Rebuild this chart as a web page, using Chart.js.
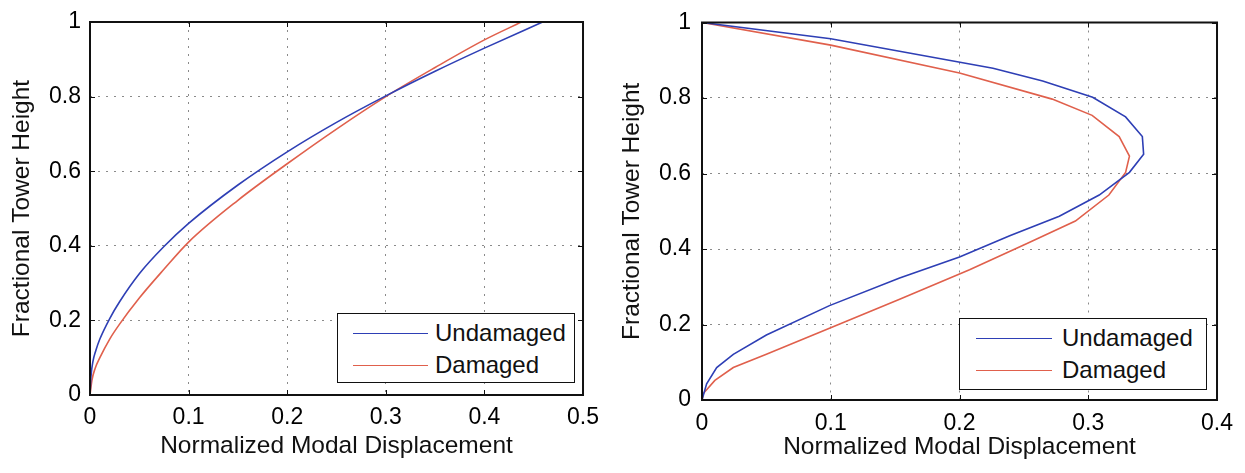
<!DOCTYPE html>
<html>
<head>
<meta charset="utf-8">
<script src="https://cdn.jsdelivr.net/npm/chart.js@4/dist/chart.umd.min.js"></script>
<style>
  html, body { margin: 0; padding: 0; background: #fff; }
  body { width: 1245px; height: 473px; position: relative; overflow: hidden; font-family: 'Liberation Sans', Arial, sans-serif; }
  .wrap { position: absolute; top: 0; height: 473px; }
  .legend { position: absolute; background: #fff; border: 1.5px solid #111; box-sizing: border-box; }
  .legend .row { position: absolute; left: 0; right: 0; height: 30px; }
  .legend .swatch { position: absolute; height: 0; border-top: 1.5px solid; }
  .legend .label { position: absolute; font-size: 24px; color: #111; line-height: 30px; top: 0; }
</style>
</head>
<body>
<div class="wrap" id="leftWrap" style="left:0;width:610px;"><canvas id="leftChart"></canvas></div>
<div class="wrap" id="rightWrap" style="left:610px;width:635px;"><canvas id="rightChart"></canvas></div>
<div class="legend" id="leftLegend" style="left:337px;top:313px;width:238px;height:70px;"></div>
<div class="legend" id="rightLegend" style="left:959px;top:318px;width:248px;height:72px;"></div>
<script>
// series names and colours
const seriesNames = ['Undamaged', 'Damaged'];
const seriesColors = ['#2e3fb5', '#e0604c'];

// left panel (first mode shape)
const leftUndamagedX = [0, 0.001, 0.003, 0.006, 0.01, 0.02, 0.03, 0.05, 0.075, 0.1, 0.15, 0.2, 0.25, 0.3, 0.35, 0.4, 0.459];
const leftUndamagedY = [0, 0.05, 0.09, 0.12, 0.15, 0.205, 0.25, 0.325, 0.398, 0.46, 0.563, 0.652, 0.731, 0.802, 0.868, 0.930, 1.0];
const leftDamagedX = [0, 0.002, 0.005, 0.01, 0.02, 0.03, 0.05, 0.075, 0.1, 0.15, 0.2, 0.25, 0.3, 0.35, 0.4, 0.4375];
const leftDamagedY = [0, 0.04, 0.07, 0.10, 0.15, 0.19, 0.26, 0.337, 0.41, 0.522, 0.62, 0.713, 0.800, 0.878, 0.952, 1.0];
const leftXTicks = [0, 0.1, 0.2, 0.3, 0.4, 0.5];
const leftXLabels = ['0', '0.1', '0.2', '0.3', '0.4', '0.5'];

// right panel (second mode shape)
const rightUndamagedX = [0, 0.0036, 0.0114, 0.0243, 0.05, 0.099, 0.1535, 0.2, 0.239, 0.2775, 0.3085, 0.332, 0.343, 0.342, 0.329, 0.3034, 0.2646, 0.226, 0.1, 0];
const rightUndamagedY = [0, 0.043, 0.086, 0.121, 0.172, 0.25, 0.323, 0.379, 0.435, 0.487, 0.543, 0.603, 0.651, 0.698, 0.75, 0.802, 0.845, 0.879, 0.957, 1.0];
const rightDamagedX = [0, 0.001, 0.01, 0.0243, 0.05, 0.099, 0.1535, 0.2078, 0.252, 0.29, 0.316, 0.329, 0.332, 0.324, 0.303, 0.272, 0.2, 0.1, 0];
const rightDamagedY = [0, 0.017, 0.052, 0.086, 0.121, 0.19, 0.267, 0.345, 0.414, 0.474, 0.543, 0.603, 0.646, 0.698, 0.754, 0.797, 0.866, 0.94, 1.0];
const rightXTicks = [0, 0.1, 0.2, 0.3, 0.4];
const rightXLabels = ['0', '0.1', '0.2', '0.3', '0.4'];

const yTicks = [0, 0.2, 0.4, 0.6, 0.8, 1];
const yLabels = ['0', '0.2', '0.4', '0.6', '0.8', '1'];

const xTitle = 'Normalized Modal Displacement';
const yTitle = 'Fractional Tower Height';

const FONT = "'Liberation Sans', Arial, sans-serif";

const toPoints = (xs, ys) => xs.map((x, i) => ({ x: x, y: ys[i] }));

// box round the plot area plus small inward ticks, matlab style
const framePlugin = {
    id: 'frame',
    afterDatasetsDraw(chart) {
        const { ctx, chartArea: a, scales } = chart;
        ctx.save();
        ctx.strokeStyle = '#111';
        ctx.lineWidth = 1;
        ctx.beginPath();
        scales.x.ticks.forEach(t => {
            const px = Math.round(scales.x.getPixelForValue(t.value)) + 0.5;
            ctx.moveTo(px, a.bottom); ctx.lineTo(px, a.bottom - 5);
            ctx.moveTo(px, a.top); ctx.lineTo(px, a.top + 5);
        });
        scales.y.ticks.forEach(t => {
            const py = Math.round(scales.y.getPixelForValue(t.value)) + 0.5;
            ctx.moveTo(a.left, py); ctx.lineTo(a.left + 5, py);
            ctx.moveTo(a.right, py); ctx.lineTo(a.right - 5, py);
        });
        ctx.stroke();
        ctx.lineWidth = 2;
        ctx.strokeRect(a.left, a.top, a.right - a.left, a.bottom - a.top);
        ctx.restore();
    }
};

function makeChart(id, sets, xMax, xTicks, xLabels, lay, smooth) {
    return new Chart(document.getElementById(id), {
        type: 'scatter',
        data: {
            datasets: sets.map((pts, i) => ({
                label: seriesNames[i],
                data: pts,
                showLine: true,
                borderColor: seriesColors[i],
                backgroundColor: seriesColors[i],
                borderWidth: 1.6,
                pointRadius: 0,
                tension: 0,
                cubicInterpolationMode: smooth ? 'monotone' : 'default'
            }))
        },
        options: {
            responsive: false,
            animation: false,
            events: [],
            layout: { padding: lay.padding },
            plugins: { legend: { display: false }, tooltip: { enabled: false } },
            scales: {
                x: {
                    type: 'linear',
                    min: 0,
                    max: xMax,
                    afterBuildTicks: s => { s.ticks = xTicks.map(v => ({ value: v })); },
                    afterFit: s => { s.height = lay.xHeight; },
                    grid: { color: '#8a8a8a', lineWidth: 1, drawTicks: false },
                    border: { display: false, dash: [2, 6] },
                    ticks: {
                        padding: lay.xPad,
                        color: '#000',
                        font: { family: FONT, size: 23, lineHeight: 1 },
                        maxRotation: 0,
                        callback: (v) => xLabels[xTicks.indexOf(v)] ?? ''
                    },
                    title: { display: true, text: xTitle, color: '#111', padding: 4, font: { family: FONT, size: 24.5 } }
                },
                y: {
                    type: 'linear',
                    min: 0,
                    max: 1,
                    afterBuildTicks: s => { s.ticks = yTicks.map(v => ({ value: v })); },
                    afterFit: s => { s.width = lay.yWidth; },
                    grid: { color: '#8a8a8a', lineWidth: 1, drawTicks: false },
                    border: { display: false, dash: [2, 6] },
                    ticks: {
                        padding: lay.yPad,
                        color: '#000',
                        font: { family: FONT, size: 23, lineHeight: 1 },
                        callback: (v) => yLabels[yTicks.indexOf(v)] ?? ''
                    },
                    title: { display: true, text: yTitle, color: '#111', padding: 4, font: { family: FONT, size: 24.5 } }
                }
            }
        },
        plugins: [framePlugin]
    });
}

function sizeCanvas(id, w, h) {
    const c = document.getElementById(id);
    c.width = w; c.height = h;
    c.style.width = w + 'px'; c.style.height = h + 'px';
}

sizeCanvas('leftChart', 610, 473);
sizeCanvas('rightChart', 635, 473);

const leftChart = makeChart('leftChart',
    [toPoints(leftUndamagedX, leftUndamagedY), toPoints(leftDamagedX, leftDamagedY)],
    0.5, leftXTicks, leftXLabels,
    { padding: { left: 4, right: 21, top: 22, bottom: 8 }, yWidth: 86, xHeight: 70, xPad: 11, yPad: 9 }, true);

const rightChart = makeChart('rightChart',
    [toPoints(rightUndamagedX, rightUndamagedY), toPoints(rightDamagedX, rightDamagedY)],
    0.4, rightXTicks, rightXLabels,
    { padding: { left: 4, right: 25, top: 13, bottom: 7 }, yWidth: 88, xHeight: 66, xPad: 12, yPad: 11 }, false);

// legend boxes inside the plots, built from the series arrays
function buildLegend(id, rowTops, lineLeft, lineWidth, textLeft) {
    const box = document.getElementById(id);
    seriesNames.forEach((name, i) => {
        const row = document.createElement('div');
        row.className = 'row';
        row.style.top = rowTops[i] + 'px';
        const sw = document.createElement('div');
        sw.className = 'swatch';
        sw.style.left = lineLeft + 'px';
        sw.style.width = lineWidth + 'px';
        sw.style.top = '15px';
        sw.style.borderTopColor = seriesColors[i];
        const lb = document.createElement('div');
        lb.className = 'label';
        lb.style.left = textLeft + 'px';
        lb.textContent = name;
        row.appendChild(sw);
        row.appendChild(lb);
        box.appendChild(row);
    });
}

buildLegend('leftLegend', [4, 36], 15, 75, 97);
buildLegend('rightLegend', [4, 36], 16, 76, 102);
</script>
</body>
</html>
